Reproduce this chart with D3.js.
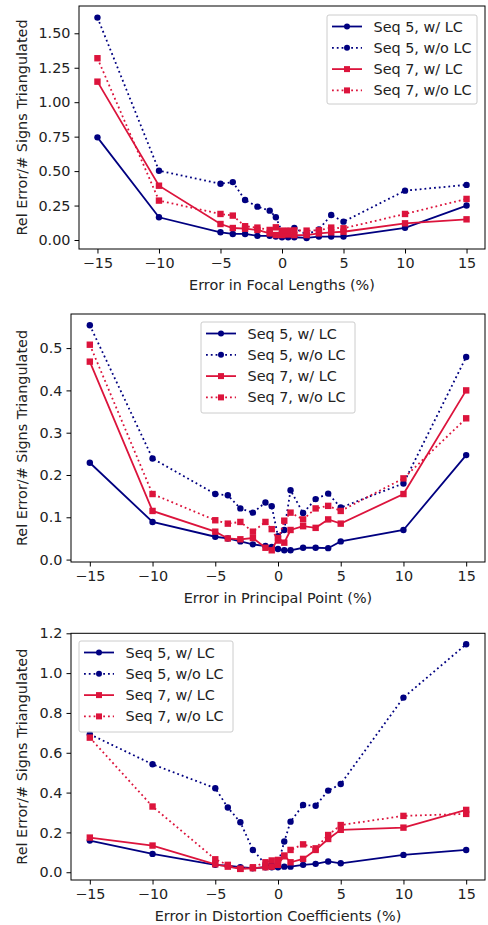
<!DOCTYPE html>
<html>
<head>
<meta charset="utf-8">
<script src="https://cdn.jsdelivr.net/npm/d3@7"></script>
<style>
body { margin: 0; background: #fff; }
svg { font-family: "DejaVu Sans", sans-serif; }
</style>
</head>
<body>
<svg width="488" height="925"></svg>
<script>
var xs = [-15, -10, -5, -4, -3, -2, -1, -0.5, 0, 0.5, 1, 2, 3, 4, 5, 10, 15];
var seriesNames = ["Seq 5, w/ LC", "Seq 5, w/o LC", "Seq 7, w/ LC", "Seq 7, w/o LC"];

// focal lengths
var focal5lc   = [0.745, 0.165, 0.056, 0.044, 0.044, 0.030, 0.030, 0.025, 0.020, 0.020, 0.020, 0.015, 0.025, 0.025, 0.025, 0.088, 0.250];
var focal5nolc = [1.614, 0.503, 0.408, 0.420, 0.290, 0.242, 0.213, 0.165, 0.060, 0.066, 0.087, 0.040, 0.077, 0.181, 0.133, 0.358, 0.400];
var focal7lc   = [1.149, 0.394, 0.116, 0.087, 0.082, 0.073, 0.048, 0.036, 0.036, 0.040, 0.036, 0.036, 0.048, 0.056, 0.060, 0.121, 0.150];
var focal7nolc = [1.319, 0.286, 0.189, 0.177, 0.100, 0.090, 0.073, 0.092, 0.068, 0.068, 0.070, 0.068, 0.070, 0.090, 0.085, 0.189, 0.298];

// principal point
var pp5lc   = [0.229, 0.089, 0.054, 0.050, 0.043, 0.036, 0.032, 0.030, 0.025, 0.022, 0.022, 0.028, 0.028, 0.027, 0.043, 0.070, 0.247];
var pp5nolc = [0.554, 0.239, 0.155, 0.152, 0.121, 0.111, 0.135, 0.126, 0.055, 0.070, 0.164, 0.110, 0.143, 0.156, 0.123, 0.180, 0.479];
var pp7lc   = [0.468, 0.115, 0.066, 0.050, 0.048, 0.051, 0.028, 0.022, 0.051, 0.040, 0.070, 0.079, 0.075, 0.095, 0.085, 0.155, 0.400];
var pp7nolc = [0.508, 0.155, 0.093, 0.085, 0.089, 0.066, 0.089, 0.072, 0.045, 0.092, 0.111, 0.095, 0.121, 0.127, 0.115, 0.192, 0.334];

// distortion coefficients
var dist5lc   = [0.159, 0.092, 0.037, 0.033, 0.025, 0.020, 0.025, 0.025, 0.025, 0.028, 0.028, 0.037, 0.042, 0.054, 0.045, 0.087, 0.112];
var dist5nolc = [0.693, 0.542, 0.422, 0.325, 0.251, 0.112, 0.040, 0.035, 0.040, 0.154, 0.254, 0.338, 0.334, 0.410, 0.443, 0.877, 1.145];
var dist7lc   = [0.174, 0.134, 0.040, 0.028, 0.017, 0.020, 0.025, 0.028, 0.037, 0.084, 0.050, 0.067, 0.112, 0.167, 0.213, 0.224, 0.313];
var dist7nolc = [0.676, 0.330, 0.065, 0.037, 0.017, 0.025, 0.050, 0.059, 0.062, 0.080, 0.112, 0.140, 0.120, 0.187, 0.237, 0.283, 0.293];

var xTicks = [-15, -10, -5, 0, 5, 10, 15];

var navy = "#000080", red = "#dc143c";
var fs = 14.4;
var styles = [
  {color: navy, dash: null, marker: "circle"},
  {color: navy, dash: "1.8,3", marker: "circle"},
  {color: red, dash: null, marker: "square"},
  {color: red, dash: "1.8,3", marker: "square"}
];

var svg = d3.select("svg");

function panel(cfg) {
  var g = svg.append("g");
  var x = d3.scaleLinear().domain([-16.5, 16.5]).range([cfg.left, cfg.right]);
  var y = d3.scaleLinear().domain(cfg.ydom).range([cfg.bottom, cfg.top]);

  var line = d3.line()
    .x(function(d, i) { return x(xs[i]); })
    .y(function(d) { return y(d); });

  cfg.series.forEach(function(vals, k) {
    var st = styles[k];
    g.append("path")
      .attr("d", line(vals))
      .attr("fill", "none")
      .attr("stroke", st.color)
      .attr("stroke-width", 1.8)
      .attr("stroke-dasharray", st.dash);
    vals.forEach(function(v, i) {
      if (st.marker == "circle") {
        g.append("circle").attr("cx", x(xs[i])).attr("cy", y(v)).attr("r", 3.2).attr("fill", st.color);
      } else {
        g.append("rect").attr("x", x(xs[i]) - 3.2).attr("y", y(v) - 3.2)
          .attr("width", 6.4).attr("height", 6.4).attr("fill", st.color);
      }
    });
  });

  g.append("rect")
    .attr("x", cfg.left).attr("y", cfg.top)
    .attr("width", cfg.right - cfg.left).attr("height", cfg.bottom - cfg.top)
    .attr("fill", "none").attr("stroke", "#000").attr("stroke-width", 1);

  var xa = g.append("g").attr("transform", "translate(0," + cfg.bottom + ")")
    .call(d3.axisBottom(x).tickValues(xTicks).tickSize(4.5).tickPadding(4)
      .tickFormat(function(d) { return d < 0 ? "\u2212" + Math.abs(d) : d; }));
  var ya = g.append("g").attr("transform", "translate(" + cfg.left + ",0)")
    .call(d3.axisLeft(y).tickValues(cfg.yticks).tickSize(4.5).tickPadding(4)
      .tickFormat(d3.format(cfg.yfmt)));
  [xa, ya].forEach(function(a) {
    a.select(".domain").remove();
    a.selectAll("text").attr("font-size", fs).attr("fill", "#222").attr("font-family", "DejaVu Sans");
    a.selectAll("line").attr("stroke", "#000");
  });

  g.append("text")
    .attr("x", (cfg.left + cfg.right) / 2).attr("y", cfg.bottom + 41)
    .attr("text-anchor", "middle").attr("font-size", fs).attr("fill", "#222")
    .text(cfg.xlabel);
  g.append("text")
    .attr("transform", "translate(" + 27 + "," + ((cfg.top + cfg.bottom) / 2) + ") rotate(-90)")
    .attr("text-anchor", "middle").attr("font-size", fs).attr("fill", "#222")
    .text("Rel Error/# Signs Triangulated");

  // legend
  var L = cfg.legend;
  var lg = g.append("g").attr("transform", "translate(" + L[0] + "," + L[1] + ")");
  lg.append("rect").attr("width", L[2]).attr("height", L[3]).attr("rx", 2)
    .attr("fill", "#fff").attr("fill-opacity", 0.8).attr("stroke", "#ccc");
  seriesNames.forEach(function(nm, k) {
    var st = styles[k], yy = 11.5 + k * 21.3;
    lg.append("line").attr("x1", 5).attr("x2", 35).attr("y1", yy).attr("y2", yy)
      .attr("stroke", st.color).attr("stroke-width", 1.8).attr("stroke-dasharray", st.dash);
    if (st.marker == "circle") lg.append("circle").attr("cx", 20).attr("cy", yy).attr("r", 3).attr("fill", st.color);
    else lg.append("rect").attr("x", 17).attr("y", yy - 3).attr("width", 6).attr("height", 6).attr("fill", st.color);
    lg.append("text").attr("x", 46.5).attr("y", yy + 5).attr("font-size", fs).attr("fill", "#222").text(nm);
  });
}

panel({
  left: 79, right: 485, top: 6, bottom: 249,
  ydom: [-0.0653, 1.698], yticks: [0, 0.25, 0.5, 0.75, 1.0, 1.25, 1.5], yfmt: ".2f",
  series: [focal5lc, focal5nolc, focal7lc, focal7nolc],
  xlabel: "Error in Focal Lengths (%)",
  legend: [327, 15, 150, 89]
});
panel({
  left: 71, right: 485, top: 314, bottom: 562,
  ydom: [-0.0057, 0.5806], yticks: [0, 0.1, 0.2, 0.3, 0.4, 0.5], yfmt: ".1f",
  series: [pp5lc, pp5nolc, pp7lc, pp7nolc],
  xlabel: "Error in Principal Point (%)",
  legend: [201, 322, 154, 91]
});
panel({
  left: 71, right: 485, top: 633.3, bottom: 880,
  ydom: [-0.039, 1.2], yticks: [0, 0.2, 0.4, 0.6, 0.8, 1.0, 1.2], yfmt: ".1f",
  series: [dist5lc, dist5nolc, dist7lc, dist7nolc],
  xlabel: "Error in Distortion Coefficients (%)",
  legend: [79, 641, 154, 91]
});
</script>
</body>
</html>
